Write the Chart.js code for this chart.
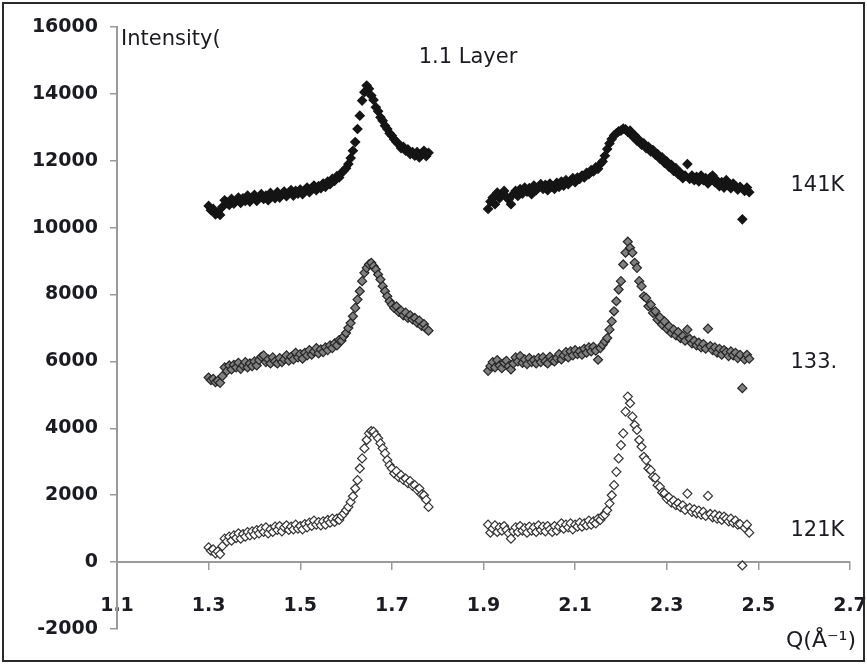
<!DOCTYPE html>
<html>
<head>
<meta charset="utf-8">
<script src="https://cdn.jsdelivr.net/npm/chart.js@4/dist/chart.umd.min.js"></script>
<style>
  html, body { margin: 0; padding: 0; background: #fff; }
  #wrap { position: relative; width: 867px; height: 664px; }
</style>
</head>
<body>
<div id="wrap"><canvas id="chart" width="867" height="664"></canvas></div>
<script>
// Q values (Å^-1) of the two measured windows
const qLow = [
  1.300, 1.305, 1.310, 1.315, 1.320, 1.325, 1.330, 1.335, 1.340, 1.345,
  1.350, 1.355, 1.360, 1.365, 1.370, 1.375, 1.380, 1.385, 1.390, 1.395,
  1.400, 1.405, 1.410, 1.415, 1.420, 1.425, 1.430, 1.435, 1.440, 1.445,
  1.450, 1.455, 1.460, 1.465, 1.470, 1.475, 1.480, 1.485, 1.490, 1.495,
  1.500, 1.505, 1.510, 1.515, 1.520, 1.525, 1.530, 1.535, 1.540, 1.545,
  1.550, 1.555, 1.560, 1.565, 1.570, 1.575, 1.580, 1.585, 1.590, 1.595,
  1.600, 1.605, 1.610, 1.615, 1.620, 1.625, 1.630, 1.635, 1.640, 1.645,
  1.650, 1.655, 1.660, 1.665, 1.670, 1.675, 1.680, 1.685, 1.690, 1.695,
  1.700, 1.705, 1.710, 1.715, 1.720, 1.725, 1.730, 1.735, 1.740, 1.745,
  1.750, 1.755, 1.760, 1.765, 1.770, 1.775, 1.780,
];
const qHigh = [
  1.910, 1.915, 1.920, 1.925, 1.930, 1.935, 1.940, 1.945, 1.950, 1.955,
  1.960, 1.965, 1.970, 1.975, 1.980, 1.985, 1.990, 1.995, 2.000, 2.005,
  2.010, 2.015, 2.020, 2.025, 2.030, 2.035, 2.040, 2.045, 2.050, 2.055,
  2.060, 2.065, 2.070, 2.075, 2.080, 2.085, 2.090, 2.095, 2.100, 2.105,
  2.110, 2.115, 2.120, 2.125, 2.130, 2.135, 2.140, 2.145, 2.150, 2.155,
  2.160, 2.165, 2.170, 2.175, 2.180, 2.185, 2.190, 2.195, 2.200, 2.205,
  2.210, 2.215, 2.220, 2.225, 2.230, 2.235, 2.240, 2.245, 2.250, 2.255,
  2.260, 2.265, 2.270, 2.275, 2.280, 2.285, 2.290, 2.295, 2.300, 2.305,
  2.310, 2.315, 2.320, 2.325, 2.330, 2.335, 2.340, 2.345, 2.350, 2.355,
  2.360, 2.365, 2.370, 2.375, 2.380, 2.385, 2.390, 2.395, 2.400, 2.405,
  2.410, 2.415, 2.420, 2.425, 2.430, 2.435, 2.440, 2.445, 2.450, 2.455,
  2.460, 2.465, 2.470, 2.475, 2.480,
];

// 141K (top curve)
const i141Low = [
  10650, 10520, 10560, 10400, 10450, 10380, 10620, 10820, 10750, 10680,
  10860, 10720, 10800, 10900, 10740, 10880, 10800, 10960, 10780, 10900,
  10980, 10800, 10920, 11000, 10860, 10960, 10820, 11040, 10940, 10880,
  11060, 10900, 11000, 11080, 10940, 11040, 11120, 10960, 11100, 11020,
  11140, 11000, 11120, 11200, 11060, 11180, 11260, 11120, 11240, 11180,
  11320, 11220, 11380, 11300, 11460, 11400, 11540, 11500, 11640, 11700,
  11780, 11900, 12080, 12300, 12560, 12950, 13350, 13800, 14050, 14250,
  14150, 13950, 13820, 13600, 13480, 13300, 13200, 13050, 12950, 12820,
  12750, 12640, 12560, 12500, 12380, 12420, 12300, 12340, 12200, 12260,
  12150, 12260, 12100, 12200, 12300, 12140, 12240,
];
const i141High = [
  10560, 10780, 10900, 10700, 11050, 10880, 10980, 11100, 10920, 10840,
  10700, 11000, 11100, 10950, 11150, 11020, 11200, 11080, 11180, 11000,
  11260, 11120, 11200, 11300, 11160, 11280, 11120, 11320, 11220, 11160,
  11340, 11220, 11380, 11260, 11420, 11300, 11400, 11480, 11360, 11500,
  11460, 11560, 11500, 11640, 11600, 11720, 11680, 11800, 11760, 11900,
  11980, 12150, 12350, 12520, 12650, 12760, 12820, 12880, 12900, 12960,
  12940, 12860, 12900, 12740, 12760, 12600, 12620, 12480, 12520, 12380,
  12420, 12280, 12320, 12180, 12200, 12060, 12100, 11940, 11980, 11820,
  11880, 11700, 11780, 11600, 11640, 11480, 11560, 11900, 11460, 11560,
  11420, 11520, 11380, 11560, 11420, 11480, 11320, 11500, 11560, 11360,
  11400, 11240, 11360, 11200, 11420, 11260, 11180, 11320, 11240, 11140,
  11220, 10250, 11100, 11200, 11060,
];

// 133 K (middle curve)
const i133Low = [
  5520, 5440, 5480, 5380, 5420, 5360, 5560, 5820, 5720, 5880,
  5760, 5900, 5820, 5960, 5780, 5880, 5980, 5820, 5940, 5860,
  6000, 5880, 6040, 6140, 6180, 5980, 6060, 5940, 6120, 6000,
  5940, 6100, 5980, 6060, 6180, 6020, 6140, 6060, 6260, 6120,
  6220, 6080, 6260, 6180, 6340, 6200, 6300, 6400, 6240, 6360,
  6280, 6420, 6340, 6480, 6400, 6540, 6480, 6640, 6620, 6750,
  6850, 7000, 7150, 7350, 7600, 7850, 8100, 8400, 8650, 8800,
  8900, 8950, 8850, 8750, 8600, 8450, 8250, 8100, 7950, 7800,
  7700, 7600, 7650, 7480, 7520, 7380, 7460, 7300, 7380, 7260,
  7300, 7160, 7220, 7060, 7120, 6980, 6920,
];
const i133High = [
  5720, 5860, 5980, 5820, 6040, 5880, 5800, 5960, 6020, 5860,
  5760, 5940, 6120, 6000, 6160, 5960, 6060, 5920, 6100, 5980,
  6040, 5940, 6100, 5980, 6120, 6000, 5940, 6140, 6040, 6000,
  6100, 6220, 6060, 6180, 6280, 6120, 6300, 6180, 6340, 6220,
  6300, 6200, 6380, 6260, 6420, 6300, 6440, 6320, 6050, 6400,
  6500, 6600, 6700, 6950, 7200, 7500, 7800, 8150, 8400, 8900,
  9250, 9580, 9400, 9250, 8950, 8800, 8400, 8250, 7950, 7900,
  7650, 7700, 7450, 7500, 7250, 7320, 7100, 7200, 6980, 7050,
  6850, 6950, 6780, 6880, 6700, 6760, 6620, 6950, 6680, 6540,
  6620, 6480, 6560, 6420, 6520, 6380, 6980, 6460, 6340, 6420,
  6260, 6380, 6200, 6340, 6280, 6160, 6300, 6180, 6260, 6100,
  6200, 5200, 6060, 6200, 6080,
];

// 121K (bottom curve)
const i121Low = [
  440, 340, 380, 260, 320, 240, 480, 700, 620, 760,
  640, 800, 720, 860, 700, 840, 760, 900, 800, 920,
  820, 960, 860, 1000, 900, 1040, 860, 980, 900, 1060,
  960, 1080, 920, 1040, 1100, 960, 1060, 980, 1120, 1000,
  1080, 980, 1140, 1040, 1180, 1080, 1240, 1120, 1200, 1100,
  1220, 1120, 1260, 1180, 1300, 1200, 1300, 1260, 1380, 1450,
  1550, 1650, 1800, 1970, 2200, 2450, 2800, 3100, 3400, 3650,
  3850, 3920, 3900, 3800, 3700, 3550, 3400, 3250, 3050, 2900,
  2800, 2650, 2720, 2540, 2600, 2460, 2500, 2360, 2420, 2280,
  2300, 2160, 2200, 2020, 2000, 1860, 1650,
];
const i121High = [
  1120, 880, 1000, 1100, 900, 1040, 940, 1080, 960, 860,
  700, 920, 1040, 900, 1080, 940, 1020, 880, 1060, 940,
  1040, 900, 1100, 960, 1060, 920, 1080, 980, 900, 1080,
  940, 1060, 1160, 1000, 1120, 1040, 1160, 980, 1120, 1060,
  1180, 1060, 1160, 1100, 1240, 1120, 1220, 1160, 1300, 1260,
  1380, 1420, 1550, 1750, 2000, 2300, 2700, 3100, 3500, 3850,
  4500, 4950, 4750, 4350, 4100, 3950, 3650, 3450, 3150, 3050,
  2800, 2750, 2550, 2520, 2300, 2250, 2080, 2060, 1900, 1940,
  1780, 1840, 1700, 1760, 1640, 1700, 1560, 2050, 1620, 1500,
  1580, 1460, 1540, 1420, 1500, 1380, 1980, 1440, 1340, 1420,
  1300, 1380, 1260, 1360, 1300, 1220, 1300, 1180, 1240, 1120,
  1140, -100, 1020, 1120, 880,
];

const xTicks = [1.1, 1.3, 1.5, 1.7, 1.9, 2.1, 2.3, 2.5, 2.7];
const yTicks = [-2000, 0, 2000, 4000, 6000, 8000, 10000, 12000, 14000, 16000];

// curve names placed at the right, in data units
const curveLabels = [
  { text: '141K', q: 2.57, v: 11250 },
  { text: '133.', q: 2.57, v: 5970 },
  { text: '121K', q: 2.57, v: 930 },
];

const TEXT = '#1b1b22';
const AXIS = '#9a9a9a';

function pts(qs, vs) {
  return qs.map((q, i) => ({ x: q, y: vs[i] }));
}

function marker(bg, border) {
  return {
    showLine: false,
    pointStyle: 'rectRot',
    pointRadius: 4.5,
    pointHoverRadius: 4.5,
    pointBorderWidth: 1.2,
    pointBackgroundColor: bg,
    pointBorderColor: border,
  };
}

const datasets = [
  { label: '141K', data: pts(qLow, i141Low).concat(pts(qHigh, i141High)), ...marker('#151515', '#151515') },
  { label: '133.', data: pts(qLow, i133Low).concat(pts(qHigh, i133High)), ...marker('#808080', '#262626') },
  { label: '121K', data: pts(qLow, i121Low).concat(pts(qHigh, i121High)), ...marker('#ffffff', '#333333') },
];

const tickFont = { family: '"DejaVu Sans", sans-serif', size: 19, weight: 'bold' };

// frame + free text (axis titles, curve names)
const decor = {
  id: 'decor',
  beforeDraw(chart) {
    const { ctx } = chart;
    ctx.save();
    ctx.fillStyle = '#fff';
    ctx.fillRect(0, 0, chart.width, chart.height);
    ctx.restore();
  },
  afterDraw(chart) {
    const { ctx, scales: { x, y } } = chart;
    ctx.save();
    ctx.strokeStyle = '#2a2a2a';
    ctx.lineWidth = 2;
    ctx.strokeRect(3, 3, chart.width - 6, chart.height - 6);

    ctx.fillStyle = TEXT;
    ctx.textBaseline = 'middle';
    ctx.font = '21px "DejaVu Sans", sans-serif';
    ctx.textAlign = 'left';
    ctx.fillText('Intensity(', x.left + 4, 40);
    ctx.textAlign = 'center';
    ctx.fillText('1.1 Layer', 468, 58);
    ctx.textAlign = 'left';
    curveLabels.forEach((c) => {
      ctx.fillText(c.text, x.getPixelForValue(c.q), y.getPixelForValue(c.v));
    });
    ctx.textAlign = 'right';
    ctx.font = '22px "DejaVu Sans", sans-serif';
    ctx.fillText('Q(Å⁻¹)', 856, 641);
    ctx.restore();
  },
};

new Chart(document.getElementById('chart'), {
  type: 'scatter',
  data: { datasets },
  plugins: [decor],
  options: {
    responsive: false,
    animation: false,
    layout: { padding: { left: 0, top: 27, right: 17, bottom: 35 } },
    plugins: {
      legend: { display: false },
      tooltip: { enabled: false },
    },
    scales: {
      x: {
        type: 'linear',
        position: { y: 0 },
        min: xTicks[0],
        max: xTicks[xTicks.length - 1],
        afterFit(scale) {
          scale.height = 0;
          scale.paddingLeft = 0;
          scale.paddingRight = 0;
        },
        afterBuildTicks(scale) { scale.ticks = xTicks.map((v) => ({ value: v })); },
        grid: { drawOnChartArea: false, color: AXIS, lineWidth: 1.5, tickLength: 7 },
        border: { color: AXIS, width: 2 },
        ticks: {
          padding: 26,
          maxRotation: 0,
          color: TEXT,
          font: tickFont,
          callback: (v) => Number(v).toFixed(1),
        },
      },
      y: {
        type: 'linear',
        min: yTicks[0],
        max: yTicks[yTicks.length - 1],
        afterFit(scale) { scale.width = 117; },
        afterBuildTicks(scale) { scale.ticks = yTicks.map((v) => ({ value: v })); },
        grid: { drawOnChartArea: false, color: AXIS, lineWidth: 1.5, tickLength: 7 },
        border: { color: AXIS, width: 2 },
        ticks: {
          padding: 12,
          color: TEXT,
          font: tickFont,
          callback: (v) => String(v),
        },
      },
    },
  },
});
</script>
</body>
</html>
